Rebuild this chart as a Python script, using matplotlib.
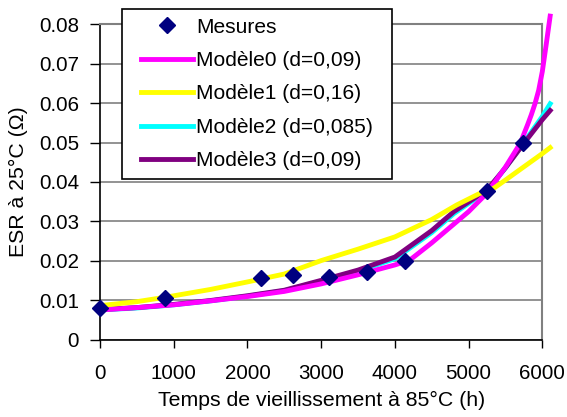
import matplotlib
matplotlib.use("Agg")
import matplotlib.pyplot as plt
from matplotlib.lines import Line2D
from matplotlib.legend_handler import HandlerLine2D

plt.rcParams['font.family'] = ['Liberation Sans', 'DejaVu Sans']

# mesures
t_mes = [0, 880, 2190, 2620, 3110, 3620, 4140, 5250, 5740]
esr_mes = [0.0080, 0.0107, 0.0158, 0.0164, 0.0159, 0.0173, 0.0200, 0.0377, 0.0498]

# modeles
t0 = [0, 500, 1000, 1500, 2000, 2500, 3000, 3500, 4000, 4200, 4500, 5000, 5250, 5500, 5700,
      5800, 5850, 5900, 5950, 6000, 6050, 6106]
m0 = [0.0076, 0.0082, 0.0089, 0.0099, 0.0110, 0.0123, 0.0142, 0.0165, 0.0190, 0.0202, 0.0246,
      0.0325, 0.0372, 0.0438, 0.0498, 0.0545, 0.0570, 0.0598, 0.0632, 0.0680, 0.0745, 0.0820]

t1 = [0, 500, 880, 1500, 2000, 2500, 3000, 3500, 4000, 4500, 4840, 5150, 5340, 5500, 6000, 6106]
m1 = [0.0087, 0.0097, 0.0108, 0.0128, 0.0147, 0.0167, 0.0201, 0.0230, 0.0261, 0.0305, 0.0342,
      0.0371, 0.0384, 0.0405, 0.0472, 0.0487]

t2 = [0, 500, 1000, 1500, 2000, 2500, 3000, 3500, 4000, 4500, 4800, 5250, 5500, 5750, 6000, 6106]
m2 = [0.0076, 0.0081, 0.0089, 0.0099, 0.0111, 0.0125, 0.0149, 0.0174, 0.0206, 0.0272, 0.0320,
      0.0378, 0.0436, 0.0500, 0.0566, 0.0598]

t3 = [0, 500, 1000, 1500, 2000, 2500, 3000, 3500, 4000, 4500, 4800, 5250, 5500, 5750, 6000, 6106]
m3 = [0.0077, 0.0082, 0.0090, 0.0100, 0.0112, 0.0126, 0.0151, 0.0177, 0.0210, 0.0277, 0.0325,
      0.0380, 0.0436, 0.0498, 0.0558, 0.0581]

fig = plt.figure(figsize=(5.67, 4.17), dpi=100)
ax = fig.add_axes([0.1764, 0.1847, 0.7801, 0.7577])

ax.set_xlim(0, 6000)
ax.set_ylim(0, 0.08)
ax.set_xticks(range(0, 6001, 1000))
ax.set_yticks([0, 0.01, 0.02, 0.03, 0.04, 0.05, 0.06, 0.07, 0.08])
ax.set_yticklabels(['0', '0.01', '0.02', '0.03', '0.04', '0.05', '0.06', '0.07', '0.08'])
ax.yaxis.grid(True, color='#808080', linewidth=1.2)
ax.set_axisbelow(True)

for s in ['top', 'right']:
    ax.spines[s].set_color('#808080')
    ax.spines[s].set_linewidth(1.5)
for s in ['left', 'bottom']:
    ax.spines[s].set_color('black')
    ax.spines[s].set_linewidth(1.2)
ax.tick_params(axis='y', direction='out', length=7, width=1, labelsize=14.8, pad=8)
ax.tick_params(axis='x', direction='out', length=6, width=1, labelsize=14.8, pad=11)

l2, = ax.plot(t2, m2, color='#00ffff', lw=3.5, clip_on=False, zorder=3)
l3, = ax.plot(t3, m3, color='#800080', lw=3.5, clip_on=False, zorder=4)
l0, = ax.plot(t0, m0, color='#ff00ff', lw=3.5, clip_on=False, zorder=5)
l1, = ax.plot(t1, m1, color='#ffff00', lw=3.5, clip_on=False, zorder=6)
pm, = ax.plot(t_mes, esr_mes, 'D', color='#000080', ms=8, clip_on=False, zorder=7, linestyle='none')

leg = ax.legend([pm, l0, l1, l2, l3],
                ['Mesures', 'Modèle0 (d=0,09)', 'Modèle1 (d=0,16)', 'Modèle2 (d=0,085)', 'Modèle3 (d=0,09)'],
                loc='upper left', bbox_to_anchor=(0.0497, 0.0, 0.6104, 1.047), mode='expand',
                borderaxespad=0, fontsize=15.1,
                numpoints=1, handlelength=3.0, handletextpad=0.15, labelspacing=0.69,
                borderpad=0.4, fancybox=False, framealpha=1, edgecolor='black',
                handler_map={Line2D: HandlerLine2D(xpad=0.5)})
leg.get_frame().set_linewidth(1.2)
leg.set_zorder(10)

ax.set_xlabel('Temps de vieillissement à 85°C (h)', fontsize=15.3, labelpad=6)
ax.set_ylabel('ESR à 25°C (Ω)', fontsize=15.3, labelpad=8)

fig.savefig('out.png', dpi=100)
